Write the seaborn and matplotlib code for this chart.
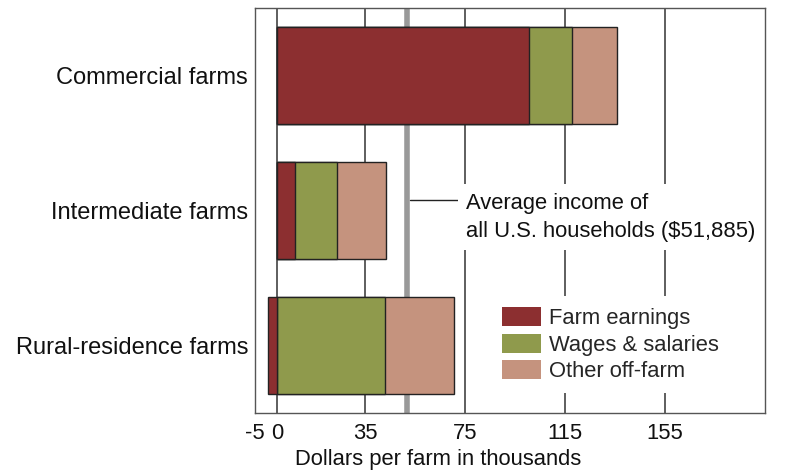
import numpy as np
import pandas as pd
import matplotlib
matplotlib.use("Agg")
import matplotlib.pyplot as plt
from matplotlib.patches import Patch
import seaborn as sns

# --- data (thousands of dollars per farm) ---
farm_types = ["Commercial farms", "Intermediate farms", "Rural-residence farms"]
farm_earnings = [100.5, 7.0, -3.7]
wages_salaries = [17.4, 17.0, 43.0]
other_off_farm = [17.7, 19.4, 27.7]
avg_household_income = 51.885

tick_values = [-5, 0, 35, 75, 115, 155]
grid_values = [0, 35, 75, 115, 155]

c_farm = "#8c2f30"
c_wages = "#8f9a4c"
c_other = "#c5937e"

df = pd.DataFrame({
    "type": farm_types,
    "farm": farm_earnings,
    "wages": wages_salaries,
    "other": other_off_farm,
})
# stacked positive part starts where positive farm earnings end
df["wages_end"] = df["farm"].clip(lower=0) + df["wages"]
df["other_end"] = df["wages_end"] + df["other"]

sns.set_style("white")
plt.rcParams["font.family"] = ["Liberation Sans", "DejaVu Sans"]
fs = 15.8

fig = plt.figure(figsize=(8.11, 4.73), dpi=100)
ax = fig.add_axes([0.3144, 0.127, 0.6289, 0.856])

for g in grid_values:
    ax.axvline(g, color="#333333", lw=1.1, zorder=0)
ax.axvline(avg_household_income, color="#999999", lw=4, zorder=0.5)

bar_kw = dict(orient="h", width=0.72, edgecolor="#222222", linewidth=1, ax=ax)
sns.barplot(data=df, x="other_end", y="type", color=c_other, saturation=1, **bar_kw)
sns.barplot(data=df, x="wages_end", y="type", color=c_wages, saturation=1, **bar_kw)
sns.barplot(data=df, x="farm", y="type", color=c_farm, saturation=1, **bar_kw)

ax.set_xlim(-9, 195)
ax.set_ylim(2.5, -0.5)
ax.set_xticks(tick_values)
ax.set_xticklabels([str(v) for v in tick_values])
ax.tick_params(axis="x", length=0, labelsize=fs, colors="#111111", pad=7)
ax.tick_params(axis="y", length=0, labelsize=17, colors="#111111", pad=5)
# "-5" sits just left of the 0 label
ax.get_xticklabels()[0].set_ha("right")
ax.set_xlabel("Dollars per farm in thousands", fontsize=fs, color="#111111")
ax.xaxis.set_label_coords(0.359, -0.09)
ax.set_ylabel("")
for s in ax.spines.values():
    s.set_color("#555555")
    s.set_linewidth(1)

# annotation for average income
ax.plot([avg_household_income + 1, 72.5], [0.926, 0.926], color="#222222", lw=1, zorder=2)
ax.text(75.5, 1.05, "Average income of\nall U.S. households ($51,885)",
        fontsize=fs, color="#111111", va="center", ha="left", linespacing=1.45,
        bbox=dict(facecolor="white", edgecolor="none", pad=6), zorder=3)

handles = [Patch(facecolor=c_farm, edgecolor="none"),
           Patch(facecolor=c_wages, edgecolor="none"),
           Patch(facecolor=c_other, edgecolor="none")]
leg = ax.legend(handles, ["Farm earnings", "Wages & salaries", "Other off-farm"],
                loc="upper left", bbox_to_anchor=(0.441, 0.315), fontsize=fs,
                frameon=True, facecolor="white", edgecolor="none", framealpha=1,
                handlelength=1.8, handleheight=0.95, handletextpad=0.35,
                labelspacing=0.2, borderpad=0.5, fancybox=False)
leg.set_zorder(3)

fig.savefig("out.png", dpi=100)
